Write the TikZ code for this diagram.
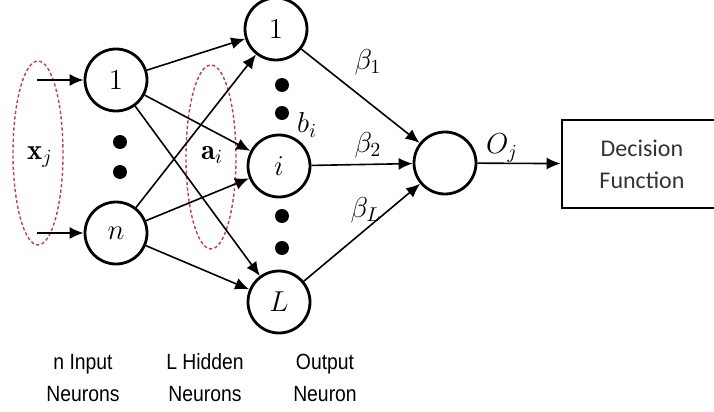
\documentclass[tikz,border=0pt]{standalone}
\usepackage{amsmath,amssymb}
\usepackage{fontspec}
\newfontfamily\lblfont[FakeStretch=0.88]{Liberation Sans}
\newfontfamily\boxfont{Carlito}
\usetikzlibrary{arrows.meta,shapes.geometric}
\definecolor{grpred}{RGB}{195,60,80}

\begin{document}
\begin{tikzpicture}[x=0.5pt,y=-0.5pt,>={Latex[length=7pt,width=6pt]},
        neuron/.style={draw,circle,line width=1.4pt,minimum size=31pt,inner sep=0pt,font=\Large},
        grp/.style={draw=grpred,dash pattern=on 1.6pt off 1.2pt,ellipse,line width=0.7pt,
                    minimum width=25pt,minimum height=92pt},
        decbox/.style={draw,line width=1.4pt,minimum width=80pt,minimum height=44pt,align=center,
                       font=\boxfont\fontsize{12}{16}\selectfont,text=black!80},
        layerlbl/.style={align=center,font=\lblfont\fontsize{11}{16}\selectfont},
        wire/.style={->,line width=0.8pt},
        wt/.style={font=\Large}]
        \useasboundingbox (0,0) rectangle (714,412);

        % input layer
        \node[neuron] (in1) at (116,80) {$1$};
        \node[neuron] (inn) at (116,233) {$n$};
        \coordinate (x1) at (37,80);
        \coordinate (xn) at (37,233);

        % hidden layer
        \node[neuron] (h1) at (276,29) {$1$};
        \node[neuron] (hi) at (279,166) {$i$};
        \node[neuron] (hL) at (279,302) {$L$};

        % output neuron and decision
        \node[neuron] (out) at (445,163) {};
        \node[decbox] (dec) at (642,164) {Decision\\Function};

        % vertical dots
        \foreach \y in {142,172} \fill (120,\y) circle (7);
        \foreach \y in {85,113,216,248} \fill (282,\y) circle (7);

        % dashed groups
        \node[grp] (xgrp) at (38,153) {};
        \node[grp] (agrp) at (211,157) {};

        \draw[wire] (x1) -- (in1);
        \draw[wire] (xn) -- (inn);
        \draw[wire] (in1) -- (h1);
        \draw[wire] (in1) -- (hi);
        \draw[wire] (in1) -- (hL);
        \draw[wire] (inn) -- (h1);
        \draw[wire] (inn) -- (hi);
        \draw[wire] (inn) -- (hL);
        \draw[wire] (h1) -- (out);
        \draw[wire] (hi) -- (out);
        \draw[wire] (hL) -- (out);
        \draw[wire] (out) -- (dec);

        % weights and labels
        \node[wt] (xj) at (40,157) {$\mathbf{x}_j$};
        \node[wt] (ai) at (212,155) {$\mathbf{a}_i$};
        \node[wt] (bi) at (307,125) {$b_i$};
        \node[wt] (b1) at (368,62) {$\beta_1$};
        \node[wt] (b2) at (368,145) {$\beta_2$};
        \node[wt] (bL) at (366,210) {$\beta_L$};
        \node[wt] (oj) at (502,148) {$O_j$};

        \node[layerlbl] (inlbl) at (83,378) {n Input\\Neurons};
        \node[layerlbl] (hidlbl) at (205,378) {L Hidden\\Neurons};
        \node[layerlbl] (outlbl) at (325,378) {Output\\Neuron};
    \end{tikzpicture}
\end{document}
